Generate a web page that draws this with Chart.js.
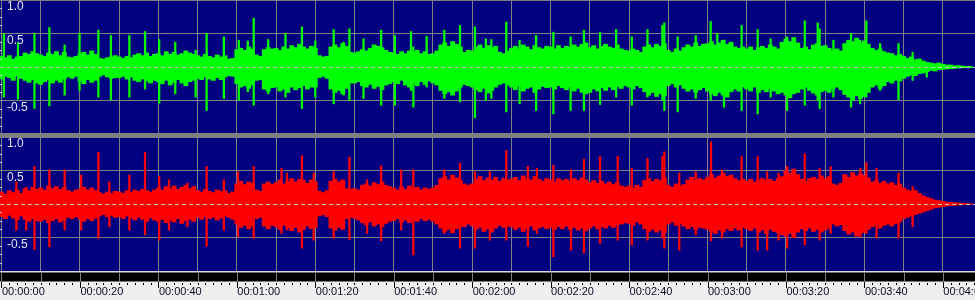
<!DOCTYPE html>
<html><head><meta charset="utf-8">
<script src="https://cdn.jsdelivr.net/npm/chart.js@4/dist/chart.umd.min.js"></script>
<style>
html,body{margin:0;padding:0;background:#efefef;overflow:hidden}
#wrap{position:relative;width:975px;height:300px;background:#efefef}
#c1{position:absolute;left:0;top:0;width:975px;height:134px;background:#000080}
#c2{position:absolute;left:0;top:137px;width:975px;height:163px}
#sep{position:absolute;left:0;top:133px;width:975px;height:4px;background:#808080;z-index:2}
</style></head>
<body><div id="wrap"><canvas id="c1" width="975" height="134"></canvas><div id="sep"></div><canvas id="c2" width="975" height="163"></canvas></div>
<script>
// ---- time axis (seconds) ----
const gridSeconds = [0,10,20,30,40,50,60,70,80,90,100,110,120,130,140,150,160,170,180,190,200,210,220,230,240];
const majorTickSeconds = [0,20,40,60,80,100,120,140,160,180,200,220,240];
const tickLabels = ['00:00:00','00:00:20','00:00:40','00:01:00','00:01:20','00:01:40','00:02:00','00:02:20','00:02:40','00:03:00','00:03:20','00:03:40','00:04:00'];
const ampTicks = [-1,-0.5,0,0.5,1];
const ampLabels = ['','-0.5','0.0','0.5','1.0'];

// ---- left channel (green), envelope per second ----
const greenHigh = [0.16,0.14,0.17,0.12,0.15,0.16,0.21,0.19,0.23,0.2,
0.18,0.16,0.21,0.19,0.23,0.17,0.22,0.15,0.14,0.16,
0.2,0.22,0.18,0.24,0.19,0.13,0.12,0.14,0.15,0.17,
0.15,0.13,0.16,0.14,0.18,0.2,0.17,0.21,0.16,0.19,
0.2,0.17,0.23,0.19,0.22,0.18,0.2,0.24,0.21,0.19,
0.17,0.15,0.19,0.16,0.14,0.18,0.15,0.17,0.12,0.13,
0.26,0.28,0.25,0.3,0.27,0.18,0.16,0.26,0.29,0.27,
0.28,0.25,0.3,0.27,0.32,0.29,0.34,0.3,0.27,0.31,
0.28,0.17,0.15,0.16,0.3,0.33,0.29,0.35,0.31,0.22,
0.21,0.23,0.26,0.24,0.28,0.33,0.31,0.29,0.25,0.22,
0.21,0.19,0.23,0.2,0.24,0.22,0.25,0.2,0.23,0.19,
0.2,0.24,0.33,0.36,0.31,0.38,0.34,0.3,0.22,0.25,
0.24,0.3,0.33,0.28,0.32,0.29,0.31,0.22,0.2,0.24,
0.28,0.31,0.27,0.33,0.3,0.26,0.32,0.29,0.27,0.31,
0.3,0.27,0.32,0.28,0.31,0.29,0.33,0.3,0.34,0.36,
0.29,0.32,0.27,0.31,0.34,0.3,0.28,0.33,0.27,0.25,
0.24,0.27,0.25,0.22,0.3,0.33,0.29,0.34,0.31,0.35,
0.25,0.22,0.27,0.24,0.29,0.33,0.3,0.36,0.31,0.34,
0.35,0.38,0.33,0.36,0.4,0.34,0.37,0.3,0.28,0.3,
0.27,0.3,0.25,0.29,0.31,0.28,0.33,0.3,0.27,0.37,
0.42,0.38,0.44,0.36,0.28,0.3,0.26,0.33,0.35,0.31,
0.32,0.28,0.25,0.27,0.24,0.35,0.4,0.38,0.43,0.36,
0.39,0.34,0.28,0.25,0.27,0.23,0.21,0.2,0.17,0.19,
0.16,0.13,0.15,0.11,0.12,0.09,0.07,0.06,0.05,0.06,
0.04,0.03,0.03,0.02,0.02,0.015,0.01,0.01];
const greenLow = [-0.18,-0.14,-0.16,-0.2,-0.13,-0.17,-0.2,-0.23,-0.19,-0.24,
-0.26,-0.22,-0.19,-0.24,-0.2,-0.23,-0.18,-0.15,-0.17,-0.14,
-0.21,-0.25,-0.19,-0.23,-0.2,-0.14,-0.12,-0.15,-0.17,-0.16,
-0.16,-0.14,-0.18,-0.15,-0.2,-0.22,-0.18,-0.21,-0.24,-0.2,
-0.22,-0.25,-0.2,-0.27,-0.23,-0.19,-0.24,-0.28,-0.22,-0.2,
-0.17,-0.19,-0.15,-0.18,-0.2,-0.16,-0.19,-0.15,-0.13,-0.14,
-0.25,-0.3,-0.28,-0.32,-0.27,-0.2,-0.19,-0.33,-0.36,-0.31,
-0.3,-0.36,-0.33,-0.38,-0.3,-0.34,-0.31,-0.28,-0.33,-0.3,
-0.3,-0.16,-0.14,-0.17,-0.33,-0.38,-0.35,-0.4,-0.32,-0.24,
-0.24,-0.22,-0.28,-0.3,-0.26,-0.32,-0.29,-0.34,-0.27,-0.25,
-0.22,-0.25,-0.2,-0.27,-0.3,-0.24,-0.28,-0.22,-0.26,-0.21,
-0.24,-0.27,-0.35,-0.4,-0.37,-0.42,-0.36,-0.3,-0.26,-0.28,
-0.3,-0.34,-0.37,-0.32,-0.39,-0.35,-0.3,-0.26,-0.24,-0.27,
-0.3,-0.34,-0.28,-0.36,-0.32,-0.3,-0.38,-0.33,-0.29,-0.31,
-0.3,-0.33,-0.28,-0.31,-0.34,-0.3,-0.36,-0.32,-0.38,-0.4,
-0.38,-0.33,-0.36,-0.31,-0.35,-0.3,-0.34,-0.29,-0.32,-0.28,
-0.3,-0.33,-0.28,-0.31,-0.37,-0.42,-0.38,-0.44,-0.4,-0.43,
-0.28,-0.25,-0.3,-0.27,-0.32,-0.36,-0.33,-0.38,-0.34,-0.31,
-0.36,-0.4,-0.43,-0.38,-0.42,-0.45,-0.37,-0.33,-0.36,-0.3,
-0.33,-0.36,-0.3,-0.38,-0.34,-0.37,-0.32,-0.36,-0.4,-0.38,
-0.42,-0.46,-0.4,-0.38,-0.33,-0.3,-0.35,-0.39,-0.42,-0.37,
-0.35,-0.38,-0.33,-0.3,-0.34,-0.41,-0.45,-0.5,-0.43,-0.47,
-0.44,-0.38,-0.3,-0.27,-0.32,-0.28,-0.22,-0.24,-0.2,-0.21,
-0.17,-0.14,-0.12,-0.13,-0.1,-0.09,-0.07,-0.05,-0.06,-0.04,
-0.035,-0.03,-0.025,-0.02,-0.015,-0.012,-0.01,-0.01];
// green peaks: time (s), max, min
const greenPeakTime = [0.6,4.2,8.4,12.2,16.1,19.9,24.7,27.9,32.6,36.6,40.2,44.3,49.5,52.3,56.7,60.5,62.8,64.3,68,72.4,76.6,80,84.7,87.2,88.7,92.3,96.8,100.3,104.4,105,108.4,112.9,116.9,120.7,123.5,124.9,128.7,132.1,136.3,140.7,145.1,148.5,152.6,156.7,160.7,164.7,168.5,169,172.4,177,180.8,182.5,184.2,188.7,192.8,196.1,200.3,204.8,208.1,208.6,212.1,216.6,218.9,220.5,224,228.7,232.3,235.9];
const greenPeakMax = [0.5,0.36,0.5,0.59,0.33,0.5,0.55,0.47,0.47,0.53,0.41,0.37,0.25,0.5,0.45,0.4,0.39,0.73,0.41,0.5,0.6,0.39,0.56,0.37,0.57,0.42,0.55,0.47,0.53,0.3,0.46,0.55,0.62,0.6,0.42,0.41,0.67,0.4,0.47,0.52,0.45,0.55,0.52,0.56,0.45,0.56,0.62,0.66,0.45,0.47,0.68,0.5,0.4,0.62,0.56,0.42,0.45,0.69,0.66,0.57,0.4,0.5,0.4,0.69,0.35,0.35,0.22,0.07];
const greenPeakMin = [-0.45,-0.48,-0.62,-0.58,-0.42,-0.35,-0.45,-0.49,-0.45,-0.33,-0.54,-0.4,-0.45,-0.65,-0.47,-0.5,-0.37,-0.57,-0.4,-0.45,-0.62,-0.45,-0.55,-0.42,-0.5,-0.47,-0.57,-0.57,-0.35,-0.6,-0.3,-0.47,-0.52,-0.76,-0.5,-0.47,-0.67,-0.55,-0.65,-0.7,-0.65,-0.65,-0.56,-0.45,-0.57,-0.45,-0.5,-0.65,-0.67,-0.47,-0.5,-0.35,-0.6,-0.65,-0.7,-0.45,-0.65,-0.57,-0.5,-0.62,-0.45,-0.6,-0.55,-0.45,-0.35,-0.49,-0.2,-0.15];

// ---- right channel (red), envelope per second ----
const redHigh = [0.18,0.15,0.2,0.17,0.21,0.16,0.23,0.2,0.25,0.22,
0.24,0.21,0.27,0.23,0.26,0.22,0.25,0.2,0.18,0.21,
0.22,0.25,0.21,0.24,0.2,0.17,0.15,0.18,0.16,0.19,
0.18,0.16,0.2,0.17,0.21,0.19,0.22,0.2,0.18,0.21,
0.24,0.21,0.26,0.23,0.27,0.22,0.25,0.28,0.23,0.26,
0.2,0.18,0.22,0.19,0.17,0.21,0.19,0.2,0.16,0.18,
0.3,0.34,0.29,0.33,0.31,0.21,0.19,0.3,0.33,0.29,
0.32,0.36,0.3,0.34,0.38,0.33,0.37,0.35,0.31,0.36,
0.33,0.19,0.17,0.2,0.34,0.37,0.33,0.36,0.23,0.22,
0.23,0.21,0.28,0.3,0.27,0.32,0.29,0.33,0.28,0.26,
0.24,0.21,0.26,0.22,0.27,0.23,0.25,0.21,0.24,0.22,
0.24,0.28,0.38,0.41,0.36,0.43,0.39,0.35,0.3,0.28,
0.3,0.37,0.41,0.35,0.39,0.36,0.4,0.34,0.38,0.36,
0.37,0.4,0.35,0.42,0.38,0.36,0.41,0.37,0.34,0.38,
0.36,0.33,0.38,0.35,0.37,0.34,0.38,0.35,0.39,0.36,
0.32,0.35,0.31,0.34,0.3,0.33,0.29,0.32,0.27,0.25,
0.27,0.24,0.28,0.25,0.35,0.38,0.34,0.37,0.35,0.39,
0.28,0.25,0.3,0.27,0.29,0.36,0.4,0.34,0.38,0.36,
0.4,0.44,0.39,0.42,0.46,0.41,0.43,0.38,0.35,0.37,
0.34,0.37,0.33,0.36,0.38,0.35,0.37,0.34,0.38,0.41,
0.5,0.46,0.52,0.44,0.37,0.34,0.38,0.4,0.37,0.42,
0.38,0.41,0.3,0.28,0.31,0.44,0.4,0.47,0.42,0.45,
0.43,0.39,0.33,0.35,0.31,0.34,0.3,0.32,0.28,0.3,
0.24,0.21,0.19,0.2,0.16,0.12,0.1,0.08,0.06,0.05,
0.04,0.03,0.025,0.02,0.015,0.01,0.008,0.006];
const redLow = [-0.19,-0.22,-0.17,-0.21,-0.24,-0.18,-0.23,-0.26,-0.22,-0.25,
-0.26,-0.23,-0.28,-0.25,-0.22,-0.27,-0.24,-0.2,-0.22,-0.19,
-0.23,-0.26,-0.22,-0.25,-0.21,-0.18,-0.16,-0.19,-0.17,-0.2,
-0.19,-0.22,-0.18,-0.21,-0.24,-0.2,-0.23,-0.26,-0.21,-0.24,
-0.26,-0.23,-0.28,-0.24,-0.27,-0.22,-0.29,-0.25,-0.23,-0.26,
-0.2,-0.23,-0.19,-0.22,-0.2,-0.24,-0.21,-0.18,-0.2,-0.23,
-0.3,-0.35,-0.32,-0.37,-0.33,-0.22,-0.2,-0.33,-0.37,-0.32,
-0.34,-0.38,-0.32,-0.36,-0.4,-0.35,-0.42,-0.38,-0.33,-0.37,
-0.35,-0.18,-0.16,-0.19,-0.36,-0.39,-0.35,-0.38,-0.22,-0.2,
-0.21,-0.24,-0.28,-0.31,-0.27,-0.33,-0.3,-0.34,-0.29,-0.26,
-0.25,-0.22,-0.27,-0.24,-0.28,-0.23,-0.26,-0.22,-0.25,-0.23,
-0.26,-0.3,-0.36,-0.41,-0.38,-0.43,-0.37,-0.33,-0.34,-0.3,
-0.33,-0.38,-0.35,-0.41,-0.37,-0.42,-0.36,-0.32,-0.35,-0.33,
-0.34,-0.38,-0.35,-0.41,-0.37,-0.33,-0.39,-0.36,-0.34,-0.37,
-0.35,-0.38,-0.34,-0.37,-0.33,-0.38,-0.35,-0.39,-0.36,-0.4,
-0.36,-0.33,-0.37,-0.34,-0.36,-0.32,-0.35,-0.31,-0.3,-0.28,
-0.29,-0.32,-0.27,-0.3,-0.37,-0.41,-0.38,-0.42,-0.39,-0.43,
-0.3,-0.27,-0.32,-0.29,-0.33,-0.37,-0.34,-0.38,-0.35,-0.36,
-0.38,-0.41,-0.44,-0.39,-0.42,-0.37,-0.4,-0.36,-0.39,-0.35,
-0.37,-0.4,-0.36,-0.42,-0.39,-0.44,-0.38,-0.41,-0.43,-0.46,
-0.48,-0.44,-0.5,-0.42,-0.37,-0.4,-0.36,-0.41,-0.38,-0.42,
-0.39,-0.36,-0.3,-0.33,-0.31,-0.4,-0.45,-0.42,-0.48,-0.44,
-0.42,-0.38,-0.34,-0.31,-0.36,-0.32,-0.3,-0.33,-0.29,-0.27,
-0.22,-0.2,-0.18,-0.16,-0.14,-0.12,-0.1,-0.08,-0.06,-0.05,
-0.04,-0.03,-0.025,-0.02,-0.015,-0.01,-0.008,-0.006];
const redPeakTime = [3.8,6.3,8.4,12.2,16.1,20.3,24.7,27.5,32.6,36.6,40.2,42.7,47.4,52.3,56.7,60.3,64.3,71.4,72.8,76.6,79.6,84.7,88.7,93.2,96.8,101.9,105,112.9,116.9,120.7,124.5,128.7,134.2,136.5,140.7,145.2,148.5,152.6,157.1,160.7,164.7,168.5,169,172.8,177,180.9,183.7,188.7,192.8,195.2,198.1,200.3,204.8,208.6,211.4,219,220.5,223.1,228.7,232.3];
const redPeakMax = [0.33,0.25,0.56,0.51,0.51,0.43,0.77,0.33,0.43,0.77,0.41,0.36,0.31,0.56,0.36,0.48,0.56,0.53,0.46,0.72,0.46,0.48,0.7,0.36,0.57,0.51,0.51,0.51,0.61,0.48,0.48,0.8,0.56,0.53,0.58,0.51,0.67,0.71,0.71,0.53,0.68,0.71,0.78,0.46,0.48,0.93,0.51,0.71,0.71,0.48,0.46,0.56,0.75,0.53,0.56,0.53,0.62,0.53,0.46,0.26];
const redPeakMin = [-0.39,-0.39,-0.68,-0.64,-0.39,-0.39,-0.51,-0.34,-0.39,-0.46,-0.54,-0.39,-0.34,-0.63,-0.39,-0.49,-0.51,-0.44,-0.39,-0.66,-0.54,-0.51,-0.53,-0.44,-0.55,-0.39,-0.76,-0.44,-0.66,-0.66,-0.54,-0.54,-0.63,-0.44,-0.79,-0.69,-0.73,-0.59,-0.54,-0.61,-0.54,-0.51,-0.66,-0.69,-0.46,-0.55,-0.51,-0.64,-0.69,-0.69,-0.54,-0.66,-0.61,-0.54,-0.44,-0.49,-0.44,-0.51,-0.51,-0.34];

// ---- helpers (built from the arrays above) ----
const X_MIN = -0.38, X_MAX = 248.2;
function envelope(hi, lo){ return hi.map((h,i)=>({x:i, y:[lo[i], h]})); }
function peaks(t, hi, lo){ return t.map((v,i)=>({x:v, y:[lo[i], hi[i]]})); }

const panelPlugin = {
  id:'panel',
  beforeDraw(chart){
    const {ctx, chartArea:a} = chart;
    ctx.save(); ctx.fillStyle = '#000080';
    ctx.fillRect(a.left, a.top, a.right-a.left, a.bottom-a.top); ctx.restore();
  },
  afterDatasetsDraw(chart){
    const {ctx, chartArea:a, scales:{y}} = chart;
    ctx.save();
    const y0 = Math.round(y.getPixelForValue(0)) + 0.5;
    ctx.strokeStyle = '#c8c8c8'; ctx.lineWidth = 1; ctx.setLineDash([4,3]);
    ctx.beginPath(); ctx.moveTo(a.left, y0); ctx.lineTo(a.right, y0); ctx.stroke();
    ctx.setLineDash([]);
    ctx.fillStyle = '#c8c8d8';
    for (let k=-8;k<=8;k++){
      const v = k/8;
      if (k % 4 === 0) continue;
      const py = Math.round(y.getPixelForValue(v));
      ctx.fillRect(a.left, py, 2, 1);
    }
    ctx.restore();
  }
};

const stripPlugin = {
  id:'strip',
  afterDraw(chart){
    const {ctx, chartArea:a, scales:{x}} = chart;
    ctx.save();
    const top = a.bottom;
    ctx.fillStyle = '#d8d8d8'; ctx.fillRect(0, top, chart.width, 1.5);
    ctx.fillStyle = '#000000'; ctx.fillRect(0, top+1.5, chart.width, 9);
    ctx.fillStyle = '#808080';
    gridSeconds.forEach(s=>{ const px = Math.round(x.getPixelForValue(s)); ctx.fillRect(px, top+1.5, 1, 9); });
    ctx.fillStyle = '#000000';
    for (let s=0; s<=248; s+=2){
      const px = Math.round(x.getPixelForValue(s));
      if (majorTickSeconds.includes(s)) ctx.fillRect(px, top+11, 1, 6);
      else ctx.fillRect(px, top+12, 1, 2);
    }
    ctx.restore();
  }
};

function makeChart(id, hi, lo, pt, pmax, pmin, color, withAxis){
  return new Chart(document.getElementById(id), {
    type:'bar',
    data:{datasets:[
      {data:peaks(pt,pmax,pmin), backgroundColor:color, barThickness:1.6, grouped:false},
      {data:envelope(hi,lo), backgroundColor:color, barThickness:4.2, grouped:false}
    ]},
    options:{
      responsive:false, animation:false, events:[],
      layout:{padding:0},
      plugins:{legend:{display:false}, tooltip:{enabled:false}},
      scales:{
        x:{type:'linear', min:X_MIN, max:X_MAX, offset:false,
           grid:{offset:false, color:'#808080', lineWidth:1, drawTicks:false},
           border:{display:false},
           afterBuildTicks:s=>{ s.ticks = gridSeconds.map(v=>({value:v})); },
           afterFit:s=>{ s.paddingLeft=0; s.paddingRight=0; s.height = withAxis ? 29 : 0; },
           ticks:{display:withAxis, autoSkip:false, maxRotation:0, minRotation:0, align:'start',
                  labelOffset:0.5, padding:14, color:'#0a0a28',
                  font:{family:'Liberation Sans', size:11},
                  callback:(v)=>{ const i = majorTickSeconds.indexOf(v); return i<0 ? '' : tickLabels[i]; }}
        },
        y:{min:-1, max:1,
           grid:{color:c=> c.tick && c.tick.value===0 ? 'rgba(0,0,0,0)' : '#808080', lineWidth:1, drawTicks:false},
           border:{display:false},
           afterBuildTicks:s=>{ s.ticks = ampTicks.map(v=>({value:v})); },
           afterFit:s=>{ s.width=0; s.paddingTop=0; s.paddingBottom=0; },
           ticks:{mirror:true, padding:7, labelOffset:7, color:'#e4e4f0',
                  font:{family:'Liberation Sans', size:12},
                  callback:(v)=>{ const i = ampTicks.indexOf(v); return i<0 ? '' : ampLabels[i]; }}
        }
      }
    },
    plugins: withAxis ? [panelPlugin, stripPlugin] : [panelPlugin]
  });
}

makeChart('c1', greenHigh, greenLow, greenPeakTime, greenPeakMax, greenPeakMin, '#00ff00', false);
makeChart('c2', redHigh, redLow, redPeakTime, redPeakMax, redPeakMin, '#ff0000', true);
</script>
</body></html>
